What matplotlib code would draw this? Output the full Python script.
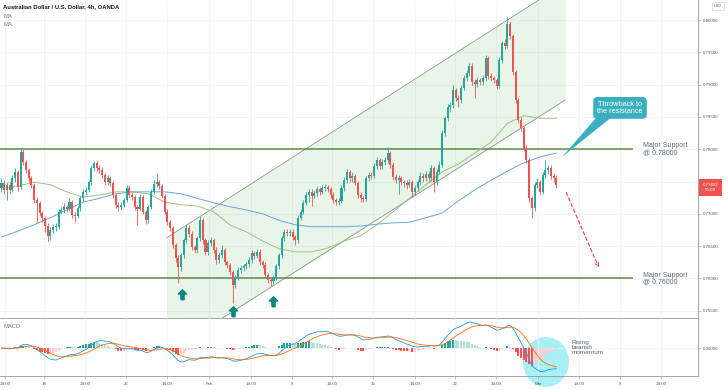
import numpy as np
import pandas as pd
import matplotlib
matplotlib.use("Agg")
import matplotlib.pyplot as plt
from matplotlib.path import Path
from matplotlib.patches import Ellipse, Polygon
from matplotlib.transforms import offset_copy

plt.rcParams["font.family"] = ["Liberation Sans", "DejaVu Sans"]

# AUD/USD 4h candles (Jan 13 - Mar 2)
first_open = 0.7740
closes = [
    0.7748, 0.7737, 0.7745, 0.7737, 0.7755, 0.7765, 0.7741, 0.7796, 0.7780, 0.7768,
    0.7755, 0.7745, 0.7721, 0.7717, 0.7701, 0.7694, 0.7681, 0.7665, 0.7675, 0.7680,
    0.7680, 0.7703, 0.7706, 0.7710, 0.7708, 0.7718, 0.7698, 0.7697, 0.7709, 0.7724,
    0.7734, 0.7737, 0.7749, 0.7771, 0.7779, 0.7771, 0.7768, 0.7760, 0.7749, 0.7755,
    0.7748, 0.7729, 0.7714, 0.7710, 0.7714, 0.7721, 0.7740, 0.7729, 0.7726, 0.7710,
    0.7708, 0.7726, 0.7703, 0.7690, 0.7710, 0.7734, 0.7746, 0.7749, 0.7743, 0.7728,
    0.7703, 0.7687, 0.7678, 0.7652, 0.7632, 0.7618, 0.7636, 0.7659, 0.7678, 0.7669,
    0.7649, 0.7644, 0.7662, 0.7690, 0.7659, 0.7641, 0.7655, 0.7659, 0.7644, 0.7628,
    0.7636, 0.7644, 0.7625, 0.7621, 0.7610, 0.7590, 0.7601, 0.7613, 0.7616, 0.7619,
    0.7622, 0.7628, 0.7639, 0.7635, 0.7641, 0.7625, 0.7621, 0.7605, 0.7598, 0.7596,
    0.7602, 0.7619, 0.7636, 0.7662, 0.7672, 0.7670, 0.7672, 0.7664, 0.7659, 0.7694,
    0.7703, 0.7717, 0.7729, 0.7734, 0.7728, 0.7732, 0.7738, 0.7734, 0.7740, 0.7741,
    0.7738, 0.7729, 0.7721, 0.7718, 0.7720, 0.7740, 0.7752, 0.7765, 0.7755, 0.7759,
    0.7748, 0.7729, 0.7724, 0.7723, 0.7755, 0.7760, 0.7759, 0.7774, 0.7783, 0.7774,
    0.7780, 0.7783, 0.7794, 0.7776, 0.7757, 0.7752, 0.7755, 0.7749, 0.7748, 0.7745,
    0.7749, 0.7734, 0.7740, 0.7749, 0.7759, 0.7755, 0.7762, 0.7755, 0.7771, 0.7749,
    0.7765, 0.7776, 0.7825, 0.7848, 0.7865, 0.7868, 0.7892, 0.7879, 0.7876, 0.7895,
    0.7910, 0.7918, 0.7929, 0.7904, 0.7901, 0.7907, 0.7904, 0.7910, 0.7941, 0.7913,
    0.7910, 0.7907, 0.7898, 0.7938, 0.7964, 0.7960, 0.7994, 0.7975, 0.7920, 0.7876,
    0.7845, 0.7833, 0.7802, 0.7783, 0.7724, 0.7709, 0.7745, 0.7749, 0.7734, 0.7760,
    0.7768, 0.7771, 0.7759, 0.7755, 0.77452,
]
highs = [
    0.7755, 0.7752, 0.7750, 0.7749, 0.7760, 0.7771, 0.7768, 0.7803, 0.7800, 0.7784,
    0.7771, 0.7758, 0.7747, 0.7726, 0.7720, 0.7705, 0.7697, 0.7685, 0.7679, 0.7684,
    0.7686, 0.7707, 0.7711, 0.7716, 0.7714, 0.7725, 0.7721, 0.7703, 0.7712, 0.7728,
    0.7738, 0.7742, 0.7753, 0.7775, 0.7782, 0.7783, 0.7776, 0.7772, 0.7763, 0.7760,
    0.7758, 0.7751, 0.7732, 0.7718, 0.7718, 0.7725, 0.7744, 0.7745, 0.7733, 0.7729,
    0.7714, 0.7730, 0.7729, 0.7706, 0.7714, 0.7738, 0.7752, 0.7763, 0.7753, 0.7746,
    0.7731, 0.7707, 0.7691, 0.7681, 0.7655, 0.7636, 0.7640, 0.7663, 0.7684, 0.7682,
    0.7673, 0.7652, 0.7666, 0.7697, 0.7693, 0.7663, 0.7660, 0.7664, 0.7663, 0.7648,
    0.7641, 0.7652, 0.7647, 0.7629, 0.7624, 0.7613, 0.7605, 0.7617, 0.7620, 0.7623,
    0.7626, 0.7633, 0.7644, 0.7643, 0.7646, 0.7645, 0.7629, 0.7625, 0.7609, 0.7602,
    0.7606, 0.7623, 0.7640, 0.7666, 0.7677, 0.7676, 0.7677, 0.7676, 0.7667, 0.7698,
    0.7708, 0.7722, 0.7733, 0.7739, 0.7738, 0.7737, 0.7743, 0.7742, 0.7745, 0.7746,
    0.7745, 0.7742, 0.7733, 0.7725, 0.7724, 0.7744, 0.7757, 0.7769, 0.7768, 0.7764,
    0.7762, 0.7751, 0.7733, 0.7728, 0.7759, 0.7765, 0.7764, 0.7778, 0.7788, 0.7787,
    0.7785, 0.7788, 0.7803, 0.7797, 0.7780, 0.7761, 0.7760, 0.7759, 0.7753, 0.7752,
    0.7754, 0.7752, 0.7745, 0.7753, 0.7764, 0.7763, 0.7767, 0.7766, 0.7776, 0.7774,
    0.7769, 0.7781, 0.7829, 0.7852, 0.7870, 0.7873, 0.7900, 0.7895, 0.7884, 0.7899,
    0.7915, 0.7923, 0.7934, 0.7933, 0.7908, 0.7912, 0.7911, 0.7915, 0.7946, 0.7944,
    0.7918, 0.7914, 0.7911, 0.7942, 0.7968, 0.7970, 0.8005, 0.7999, 0.7978, 0.7923,
    0.7880, 0.7850, 0.7836, 0.7806, 0.7786, 0.7728, 0.7749, 0.7755, 0.7753, 0.7764,
    0.7783, 0.7776, 0.7775, 0.7763, 0.7760,
]
lows = [
    0.7733, 0.7730, 0.7722, 0.7731, 0.7733, 0.7750, 0.7736, 0.7739, 0.7776, 0.7763,
    0.7750, 0.7740, 0.7717, 0.7685, 0.7697, 0.7688, 0.7672, 0.7658, 0.7660, 0.7670,
    0.7674, 0.7677, 0.7699, 0.7702, 0.7703, 0.7704, 0.7693, 0.7688, 0.7693, 0.7705,
    0.7720, 0.7729, 0.7733, 0.7745, 0.7766, 0.7767, 0.7763, 0.7756, 0.7745, 0.7744,
    0.7743, 0.7725, 0.7709, 0.7705, 0.7706, 0.7710, 0.7718, 0.7725, 0.7721, 0.7706,
    0.7683, 0.7704, 0.7699, 0.7684, 0.7686, 0.7707, 0.7730, 0.7742, 0.7739, 0.7724,
    0.7699, 0.7682, 0.7673, 0.7647, 0.7626, 0.7593, 0.7612, 0.7632, 0.7655, 0.7664,
    0.7644, 0.7639, 0.7640, 0.7658, 0.7654, 0.7636, 0.7637, 0.7650, 0.7639, 0.7623,
    0.7624, 0.7632, 0.7620, 0.7616, 0.7605, 0.7562, 0.7585, 0.7597, 0.7609, 0.7612,
    0.7615, 0.7618, 0.7624, 0.7630, 0.7631, 0.7620, 0.7616, 0.7600, 0.7593, 0.7588,
    0.7591, 0.7598, 0.7615, 0.7632, 0.7658, 0.7665, 0.7666, 0.7659, 0.7652, 0.7655,
    0.7690, 0.7699, 0.7713, 0.7718, 0.7712, 0.7724, 0.7728, 0.7729, 0.7730, 0.7735,
    0.7733, 0.7724, 0.7716, 0.7713, 0.7714, 0.7716, 0.7736, 0.7748, 0.7750, 0.7750,
    0.7744, 0.7724, 0.7719, 0.7718, 0.7720, 0.7751, 0.7754, 0.7755, 0.7770, 0.7770,
    0.7770, 0.7776, 0.7779, 0.7771, 0.7752, 0.7747, 0.7730, 0.7744, 0.7742, 0.7738,
    0.7741, 0.7726, 0.7729, 0.7736, 0.7745, 0.7750, 0.7751, 0.7750, 0.7751, 0.7734,
    0.7745, 0.7761, 0.7772, 0.7820, 0.7843, 0.7858, 0.7864, 0.7874, 0.7865, 0.7872,
    0.7891, 0.7906, 0.7914, 0.7899, 0.7880, 0.7896, 0.7899, 0.7900, 0.7906, 0.7908,
    0.7905, 0.7902, 0.7893, 0.7894, 0.7934, 0.7955, 0.7956, 0.7970, 0.7915, 0.7871,
    0.7840, 0.7828, 0.7797, 0.7778, 0.7719, 0.7693, 0.7705, 0.7740, 0.7729, 0.7730,
    0.7756, 0.7762, 0.7754, 0.7750, 0.7740,
]

# the two moving averages, read once a day (every 6th bar)
ma_bar = [0, 6, 12, 18, 24, 30, 36, 42, 48, 54, 60, 66, 72, 78, 84, 90, 96, 102,
          108, 114, 120, 126, 132, 138, 144, 150, 156, 162, 168, 174, 180, 186,
          192, 198, 204]
ma_green = [0.7738, 0.7743, 0.7749, 0.7745, 0.7734, 0.7726, 0.7729, 0.7734, 0.7734,
            0.7731, 0.7718, 0.7714, 0.7712, 0.7703, 0.7683, 0.7672, 0.7658, 0.7646,
            0.7641, 0.7641, 0.7647, 0.7658, 0.7666, 0.7683, 0.7703, 0.7724, 0.7745,
            0.7765, 0.7777, 0.7794, 0.7811, 0.7840, 0.7852, 0.7848, 0.7848]
ma_blue = [0.7664, 0.7673, 0.7683, 0.7694, 0.7706, 0.7718, 0.7724, 0.7731, 0.7734,
           0.7734, 0.7734, 0.7731, 0.7724, 0.7717, 0.7711, 0.7706, 0.7700, 0.7690,
           0.7683, 0.7680, 0.7680, 0.7680, 0.7681, 0.7684, 0.7686, 0.7687, 0.7694,
           0.7701, 0.7720, 0.7737, 0.7752, 0.7766, 0.7779, 0.7788, 0.7794]

# drawings
supports = [0.78, 0.76]
support_labels = ["Major Support\n@ 0.78000", "Major Support\n@ 0.76000"]
ch_x = [60.8, 207.2]
ch_upper = [0.7663, 0.8057]
ch_lower = [0.7484, 0.7876]
arrow_x = [66.3, 85.1, 99.7]
arrow_y = [0.7576, 0.7550, 0.7565]
proj_x = [207.2, 220.0]
proj_y = [0.7737, 0.7613]

price_ticks = [0.755, 0.760, 0.765, 0.770, 0.775, 0.780, 0.785, 0.790, 0.795, 0.800]
time_ticks = [1.3, 15.6, 30.7, 45.8, 60.8, 76.3, 91.7, 106.8, 121.5, 136.6, 152.0,
              166.7, 181.8, 197.2, 212.3, 227.4, 242.5]
time_labels = ["14:00", "18", "14:00", "25", "14:00", "Feb", "14:00", "8", "14:00",
               "15", "14:00", "22", "14:00", "Mar", "14:00", "8", "14:00"]

UP = "#26A69A"
DOWN = "#EF5350"
AXC = "#9598A1"
TXT = "#4F5966"

c = np.array(closes)
o = np.array([first_open] + closes[:-1])
h = np.array(highs)
l = np.array(lows)
x = np.arange(len(c))

fig = plt.figure(figsize=(7.28, 3.90), dpi=100)
ax = fig.add_axes([0, 72 / 390, 698 / 728, 318 / 390])
ax2 = fig.add_axes([0, 14 / 390, 698 / 728, 58 / 390], sharex=ax)

# channel
ax.fill_between(ch_x, ch_lower, ch_upper, color="#4CAF50", alpha=0.12, lw=0, zorder=1)
ax.plot(ch_x, ch_upper, color="#8A968C", lw=0.6, zorder=2)
ax.plot(ch_x, ch_lower, color="#8A968C", lw=0.6, zorder=2)

# support lines
ax.hlines(supports, -1, 232.2, color="#5F8B46", lw=1.1, zorder=2)
for s, lab in zip(supports, support_labels):
    ax.text(235.8, s, lab, fontsize=5, color="#5D6A7A", va="center", ha="left",
            linespacing=0.95)

# moving averages
ax.plot(ma_bar, ma_green, color="#9DC283", lw=0.7, zorder=2)
ax.plot(ma_bar, ma_blue, color="#6AA6DC", lw=0.7, zorder=2)

# candles
cols = np.where(c >= o, UP, DOWN)
ax.vlines(x, l, h, colors=cols, lw=0.6, zorder=3)
ax.bar(x, np.maximum(np.abs(c - o), 0.00004), bottom=np.minimum(o, c), width=0.74,
       color=cols, lw=0, zorder=4)

# arrows under the lows
arrow_path = Path([(-0.3, -1), (0.3, -1), (0.3, 0.1), (0.8, 0.1), (0, 0.9),
                   (-0.8, 0.1), (-0.3, 0.1), (-0.3, -1)])
ax.plot(arrow_x, arrow_y, ls="none", marker=arrow_path, ms=7.5, color="#00897B",
        zorder=5)

# projected move
ax.annotate("", xy=(proj_x[1], proj_y[1]), xytext=(proj_x[0], proj_y[0]),
            arrowprops=dict(arrowstyle="->", color="#F23645", lw=0.8,
                            linestyle=(0, (3, 2.5)), mutation_scale=6))

# callout
callout = "#3AAFBF"
ax.add_patch(Polygon([(218.9, 0.7850), (224.4, 0.7850), (206.1, 0.7788)],
                     closed=True, fc=callout, ec="none", zorder=6))
ax.text(227.4, 0.7864, "Throwback to\nthe resistance", ha="center", va="center",
        color="white", fontsize=5.3, linespacing=0.95, zorder=7,
        bbox=dict(boxstyle="round,pad=0.55,rounding_size=0.6", fc=callout, ec="none"))

ax.set_xlim(-0.551, 256.07)
ax.set_ylim(0.75387, 0.8031)
ax.yaxis.tick_right()
ax.set_yticks(price_ticks)
ax.set_yticklabels(["%.5f" % p for p in price_ticks])
ax.tick_params(axis="y", labelsize=3.2, length=2, width=0.4, color=AXC,
               labelcolor=TXT, pad=1.5)
ax.tick_params(axis="x", bottom=False, labelbottom=False)
ax.grid(True, color="#EEF0F4", lw=0.5)
ax.set_axisbelow(True)
for side in ["top", "left"]:
    ax.spines[side].set_visible(False)
for side in ["bottom", "right"]:
    ax.spines[side].set_color(AXC)
    ax.spines[side].set_linewidth(0.6)

# last price label
tr = offset_copy(ax.get_yaxis_transform(), fig=fig, y=-3, units="dots")
ax.text(1.018, c[-1], "%.5f\n56:09" % c[-1], transform=tr, ha="center", va="center",
        fontsize=3.2, color="white", linespacing=1.1, clip_on=False, zorder=10,
        bbox=dict(boxstyle="square,pad=0.9", fc=DOWN, ec="none"))

# MACD
s = pd.Series(c)
macd = s.ewm(span=12, adjust=False).mean() - s.ewm(span=26, adjust=False).mean()
signal = macd.ewm(span=9, adjust=False).mean()
hist = (macd - signal).values
prev = np.concatenate([[0], hist[:-1]])
hcols = np.where(hist >= 0, np.where(hist >= prev, "#26A69A", "#B2DFDB"),
                 np.where(hist < prev, "#FF5252", "#FFCDD2"))
ax2.bar(x, hist, width=0.74, color=hcols, lw=0, zorder=2)
ax2.plot(x, macd, color="#2196F3", lw=0.6, zorder=3)
ax2.plot(x, signal, color="#FF6D00", lw=0.6, zorder=3)
top = macd.max() * 1.15
ax2.set_ylim(-top * 28 / 30, top)
ax2.set_facecolor("none")
ax2.yaxis.tick_right()
ax2.set_yticks([0.0])
ax2.set_yticklabels(["0.00000"])
ax2.set_xticks(time_ticks)
ax2.set_xticklabels(time_labels)
ax2.tick_params(axis="y", labelsize=3.2, length=2, width=0.4, color=AXC,
                labelcolor=TXT, pad=1.5)
ax2.tick_params(axis="x", labelsize=3.2, length=2, width=0.4, color=AXC,
                labelcolor=TXT, pad=2)
ax2.grid(True, color="#EEF0F4", lw=0.5)
ax2.set_axisbelow(True)
for side in ["top", "left"]:
    ax2.spines[side].set_visible(False)
for side in ["bottom", "right"]:
    ax2.spines[side].set_color(AXC)
    ax2.spines[side].set_linewidth(0.6)

fig.add_artist(Ellipse((546 / 728, 1 - 362 / 390), 46 / 728, 50 / 390,
                       transform=fig.transFigure, fc="#A8F0F6", ec="none", zorder=-1))
fig.text(572 / 728, 1 - 347.5 / 390, "Rising\nbearish\nmomentum", fontsize=4.6,
         color="#5D6673", va="center", ha="left", linespacing=1.0)

# headers
fig.text(3 / 728, 1 - 7 / 390, "Australian Dollar / U.S. Dollar, 4h, OANDA",
         fontsize=4.2, weight="bold", color="#131722", va="center")
fig.text(3 / 728, 1 - 16 / 390, "MA", fontsize=4.2, color="#787B86", va="center")
fig.text(3 / 728, 1 - 25 / 390, "MA", fontsize=4.2, color="#787B86", va="center")
fig.text(3 / 728, 1 - 326 / 390, "MACD", fontsize=4.2, color="#787B86", va="center")
fig.text(718 / 728, 1 - 6 / 390, "USD", fontsize=2.8, color=TXT, ha="center",
         va="center", bbox=dict(boxstyle="square,pad=0.4", fc="white", ec="#C8CBD3",
                                lw=0.4))

fig.savefig("out.png", dpi=100)
